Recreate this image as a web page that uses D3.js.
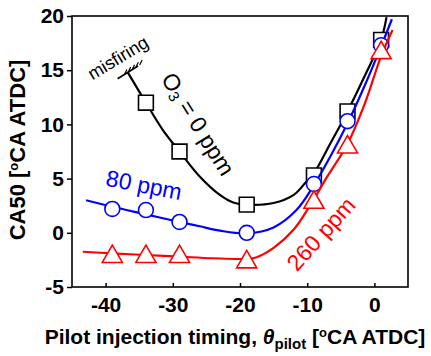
<!DOCTYPE html>
<html>
  <head>
    <meta charset="utf-8">
    <title>CA50 vs pilot injection timing</title>
    <script src="https://d3js.org/d3.v7.min.js"></script>
    <style>
      body{margin:0;background:#fff;}
      text{font-family:"Liberation Sans",Arial,sans-serif;}
    </style>
  </head>
  <body>
    <script>
      // measured points, one array per ozone level
      var timing0=[-34,-29,-19,-9,-4,1];
      var ca50_0=[12.0,7.5,2.6,5.3,11.2,17.8];
      var timing80=[-39,-34,-29,-19,-9,-4,1];
      var ca50_80=[2.2,2.1,1.0,0.0,4.5,10.3,17.3];
      var timing260=[-39,-34,-29,-19,-9,-4,1];
      var ca50_260=[-2.2,-2.2,-2.2,-2.7,2.8,7.9,16.6];

      // trend lines
      var fit0X=[-36.7,-34,-31.5,-29,-26,-23,-21,-19,-15,-12,-10.3,-9,-6.5,-4,-1.5,1,1.8];
      var fit0Y=[14.8,12.0,9.5,7.5,5.2,3.5,2.8,2.6,2.75,3.5,4.6,5.5,8.3,11.2,14.4,17.8,19.9];
      var fit80X=[-42.9,-39,-34,-29,-26,-23,-19,-15,-11.6,-9,-6.5,-4,-1.5,1,2.6];
      var fit80Y=[3.0,2.4,1.7,1.0,0.6,0.2,-0.05,0.5,2.1,4.4,7.1,10.1,13.5,17.2,19.7];
      var fit260X=[-43.4,-39,-34,-29,-24,-19,-17.5,-15,-12,-9.4,-7,-4,-1.5,1,2.7];
      var fit260Y=[-1.75,-1.9,-2.05,-2.2,-2.35,-2.4,-2.25,-1.4,0.3,2.7,5.2,8.2,11.8,16.3,18.7];

      var xTicks=[-40,-30,-20,-10,0];
      var yTicks=[-5,0,5,10,15,20];
      var misfire=[-36.7,14.8];

      var W=431,H=356;
      var pLeft=72,pRight=408,pTop=16,pBottom=287;

      var svg=d3.select('body').append('svg')
                .attr('width',W)
                .attr('height',H);

      var x=d3.scaleLinear().domain([-45,5]).range([pLeft,pRight]);
      var y=d3.scaleLinear().domain([-5,20]).range([pBottom,pTop]);

      // axes
      var xAxis=svg.append('g')
                   .attr('transform','translate(0,'+pBottom+')')
                   .call(d3.axisBottom(x).tickValues(xTicks).tickSize(-4).tickPadding(10).tickFormat(function(d){return String(d);}));
      var yAxis=svg.append('g')
                   .attr('transform','translate('+pLeft+',0)')
                   .call(d3.axisLeft(y).tickValues(yTicks).tickSize(5).tickPadding(3).tickFormat(function(d){return String(d);}));
      [xAxis,yAxis].forEach(function(a){
        a.select('.domain').remove();
        a.selectAll('line').attr('stroke','#000').attr('stroke-width',1.5);
        a.selectAll('text').attr('fill','#000').attr('font-size',21).attr('font-weight','bold')
         .attr('font-family','"Liberation Sans",Arial,sans-serif');
      });

      var line=d3.line()
                 .x(function(d){return x(d[0]);})
                 .y(function(d){return y(d[1]);})
                 .curve(d3.curveCatmullRom.alpha(0.5));

      function pairs(a,b){return a.map(function(v,i){return [v,b[i]];});}

      var series=[
        {fx:fit0X,fy:fit0Y,px:timing0,py:ca50_0,color:'#000',sym:d3.symbolSquare,size:220},
        {fx:fit80X,fy:fit80Y,px:timing80,py:ca50_80,color:'#0000ff',sym:d3.symbolCircle,size:175},
        {fx:fit260X,fy:fit260Y,px:timing260,py:ca50_260,color:'#ff0000',sym:d3.symbolTriangle,size:175}
      ];

      series.forEach(function(s){
        svg.append('path')
           .attr('d',line(pairs(s.fx,s.fy)))
           .attr('fill','none')
           .attr('stroke',s.color)
           .attr('stroke-width',2.2);
        svg.selectAll(null)
           .data(pairs(s.px,s.py))
           .enter().append('path')
           .attr('d',d3.symbol().type(s.sym).size(s.size))
           .attr('transform',function(d){return 'translate('+x(d[0])+','+y(d[1])+')';})
           .attr('fill','#fff')
           .attr('stroke',s.color)
           .attr('stroke-width',1.6);
      });

      // misfiring limit with hatch
      var mx=x(misfire[0]),my=y(misfire[1]);
      var ang=-32*Math.PI/180;
      var dx=Math.cos(ang),dy=Math.sin(ang);
      svg.append('line')
         .attr('x1',mx-12*dx).attr('y1',my-12*dy)
         .attr('x2',mx+12*dx).attr('y2',my+12*dy)
         .attr('stroke','#000').attr('stroke-width',1.6);
      for(var k=0;k<5;k++)
      {
        var t=-4+k*4.5;
        var hx=mx+t*dx,hy=my+t*dy;
        svg.append('line')
           .attr('x1',hx).attr('y1',hy)
           .attr('x2',hx+2.5).attr('y2',hy-5)
           .attr('stroke','#000').attr('stroke-width',1.2);
      }
      svg.append('text')
         .attr('transform','translate(118,58) rotate(-31)')
         .attr('text-anchor','middle')
         .attr('dominant-baseline','central')
         .attr('font-size',18)
         .text('misfiring');

      // series labels
      var o3=svg.append('text')
                .attr('transform','translate(198,124) rotate(58)')
                .attr('text-anchor','middle')
                .attr('dominant-baseline','central')
                .attr('font-size',23);
      o3.append('tspan').text('O');
      o3.append('tspan').attr('font-size',15).attr('dy',5).text('3');
      o3.append('tspan').attr('dy',-5).text(' = 0 ppm');

      svg.append('text')
         .attr('transform','translate(144,185) rotate(11)')
         .attr('text-anchor','middle')
         .attr('dominant-baseline','central')
         .attr('font-size',23)
         .attr('fill','#0000ff')
         .text('80 ppm');

      svg.append('text')
         .attr('transform','translate(321,234) rotate(-48)')
         .attr('text-anchor','middle')
         .attr('dominant-baseline','central')
         .attr('font-size',23)
         .attr('fill','#ff0000')
         .text('260 ppm');

      // frame
      svg.append('rect')
         .attr('x',pLeft).attr('y',pTop)
         .attr('width',pRight-pLeft).attr('height',pBottom-pTop)
         .attr('fill','none')
         .attr('stroke','#000')
         .attr('stroke-width',1.6);

      // axis titles
      var yl=svg.append('text')
                .attr('transform','translate(25,150) rotate(-90)')
                .attr('text-anchor','middle')
                .attr('font-size',22)
                .attr('font-weight','bold');
      yl.append('tspan').text('CA50 [');
      yl.append('tspan').attr('font-size',13).attr('dy',-7).text('o');
      yl.append('tspan').attr('dy',7).text('CA ATDC]');

      var xl=svg.append('text')
                .attr('x',235).attr('y',344)
                .attr('text-anchor','middle')
                .attr('font-size',21)
                .attr('font-weight','bold');
      xl.append('tspan').text('Pilot injection timing, ');
      xl.append('tspan').attr('font-style','italic').text('θ');
      xl.append('tspan').attr('font-size',15).attr('dy',5).text('pilot');
      xl.append('tspan').attr('dy',-5).text(' [');
      xl.append('tspan').attr('font-size',13).attr('dy',-7).text('o');
      xl.append('tspan').attr('dy',7).text('CA ATDC]');
    </script>
  </body>
</html>
